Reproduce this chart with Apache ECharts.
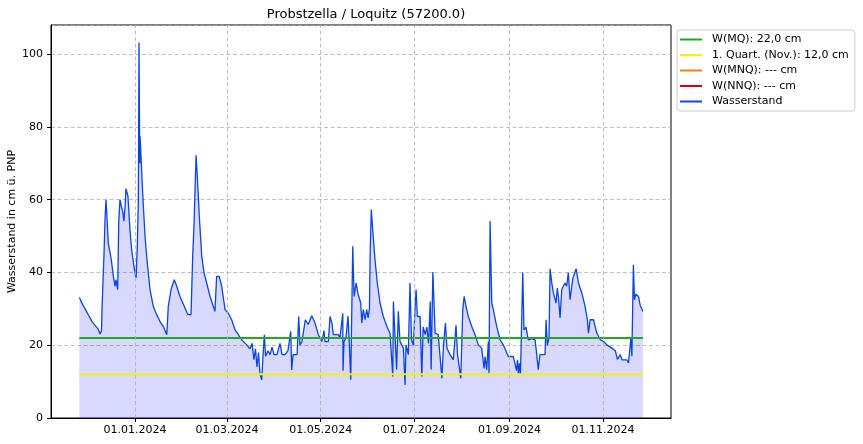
<!DOCTYPE html>
<html><head><meta charset="utf-8">
<script src="https://cdn.jsdelivr.net/npm/echarts@6/dist/echarts.min.js"></script>
<style>html,body{margin:0;padding:0;background:#fff}#c{width:863px;height:444px}</style>
</head><body><div id="c"></div>
<script>
const chartTitle = 'Probstzella / Loquitz (57200.0)';
const yAxisName = 'Wasserstand in cm ü. PNP';
const baseDate = [2024, 0, 1];
// days since 01.01.2024
const dayOffsets = [-36.3,-35.5,-34.5,-33.2,-31.9,-30.6,-29.3,-28.0,-26.7,-25.4,
-24.1,-22.8,-21.8,-21.5,-20.9,-20.2,-19.5,-18.9,-18.4,-17.9,
-17.4,-15.8,-15.0,-14.1,-13.0,-12.4,-11.3,-10.6,-9.8,-8.8,
-8.0,-7.2,-6.5,-5.9,-4.6,-3.3,-2.2,-0.7,0.7,1.5,
2.2,2.6,3.1,3.3,4.1,5.0,6.5,8.0,9.8,11.9,
14.1,16.3,18.4,20.7,21.7,23.5,25.6,27.2,29.3,32.6,
34.5,36.5,37.6,38.5,39.8,40.6,41.9,43.5,45.0,46.7,
48.9,51.0,52.1,53.2,54.9,56.5,58.7,60.8,63.0,65.2,
67.3,69.5,72.8,74.9,76.3,77.5,78.5,79.5,80.5,81.5,
82.6,83.4,84.3,85.1,86.7,88.0,89.3,90.6,92.5,94.5,
95.8,97.8,99.7,101.5,102.1,103.0,105.6,106.7,107.5,108.8,
111.0,112.9,115.2,117.3,119.5,121.7,123.2,123.8,126.0,127.1,
128.4,129.2,132.5,133.6,135.4,135.6,136.2,137.5,138.8,139.5,
140.6,141.9,142.8,144.1,145.4,147.1,147.8,148.8,149.9,151.0,
151.9,152.8,153.2,154.0,154.9,156.4,157.9,159.7,161.8,164.1,
166.2,168.0,168.4,169.5,170.5,171.6,172.7,174.9,176.0,176.6,
178.1,179.2,180.2,181.4,182.5,183.2,184.0,185.8,186.9,187.8,
189.1,190.2,191.3,192.4,193.0,194.1,195.6,197.6,200.0,201.0,
202.3,203.3,205.3,207.4,209.2,210.2,211.2,212.3,213.6,214.5,
215.8,217.2,219.4,221.6,223.7,225.9,227.5,228.1,229.2,230.3,
230.7,231.4,232.5,233.5,235.7,237.9,240.0,243.3,246.5,247.6,
248.6,249.3,249.9,250.6,251.2,252.0,252.7,253.5,254.8,256.3,
258.5,260.7,261.4,262.8,263.9,267.2,267.9,268.7,269.8,270.5,
271.6,272.6,274.4,275.2,276.0,277.0,278.1,280.2,281.3,282.4,
283.5,285.3,287.5,289.0,291.2,293.3,294.8,295.5,296.6,298.8,
299.9,301.0,303.2,305.3,307.5,310.8,313.0,314.4,316.2,317.3,
320.5,321.6,322.7,323.2,323.8,324.8,325.5,326.4,328.1,329.2,
331.0];
// Wasserstand in cm
const levels = [33.1,32.5,31.5,30.5,29.5,28.5,27.5,26.5,25.8,25.5,
24.5,23.1,24,30,37,45,55,60,56.4,52,
48,44.4,42,38.9,36.2,38,35.3,53.7,60,58,
56.8,54.1,58,63,61,51.8,46.3,41.7,38.5,47.2,
60,103.2,70,77.5,70.2,61.9,50,42.6,35.3,30.7,
28.4,26.5,25.2,22.9,30.7,35.3,38,36.2,33.4,30.2,
28.4,28.4,44.4,53.6,72.2,66.5,55.5,44.4,39.9,37.1,
33.4,30.7,29.3,38.9,38.9,36.2,29.8,28.8,27,24.2,
22.9,21.5,20.1,19,20.5,16,19,14,18,12,
10.5,17,22.9,17,18.5,17.4,19.5,17.4,17.4,20.5,
17.4,17.4,18.5,23.8,13.2,17.4,17.4,27.9,20.1,21,
27,25.7,28.1,26.1,22.9,21,24,21,21,27.9,
26,22.9,22.9,22,28.8,13,21,22,28,22,
10.5,47.2,33.4,37.1,34,31.6,26.1,29.8,27,29.8,
27.5,30,44.4,57.3,51.8,43.5,37.1,31.6,27.9,25.2,
23.3,11.4,32,22,13.3,29.3,21,19.2,9.1,20.1,
17.4,37.1,21.5,20,30.2,35.3,27.9,27.9,11.4,25,
22.9,25,20.5,32,13.3,40.1,23.3,22.9,10.9,19.8,
26.1,19.2,17.4,16,25.5,17.4,17,10.9,29.8,33.4,
30.5,27.9,25.2,22.9,20.1,19.2,13.6,16.9,13.3,21,
12.2,54.1,31.6,29.8,25.2,21.5,20.1,16.9,16.9,15.1,
13,16,12,15,12,12,40,24.2,25,21.5,
21.8,21.5,19,13.3,17.4,17.4,27,20,22,41,
37.1,34.5,31.6,35.7,33,27.5,35.3,37.1,36.2,40,
32.5,38.3,41,37.1,34.3,30.7,27,23.3,27,27,
25,23.3,21.5,21,20.1,19.2,18.5,16.1,17.4,16,
16,15.1,15.5,22,17,42.1,32.5,34,33.4,31,
29.3];
const mqLevel = 22.0;
const quartLevel = 12.0;
const legendNames = ['W(MQ): 22,0 cm', '1. Quart. (Nov.): 12,0 cm', 'W(MNQ): --- cm', 'W(NNQ): --- cm', 'Wasserstand'];
const tickDates = ['2024-01-01','2024-03-01','2024-05-01','2024-07-01','2024-09-01','2024-11-01'];
const yTicks = [0, 20, 40, 60, 80, 100];

const DAY = 86400000;
const base = new Date(baseDate[0], baseDate[1], baseDate[2]).getTime();
const toTime = d => base + d * DAY;
const parseDate = s => { const p = s.split('-').map(Number); return new Date(p[0], p[1] - 1, p[2]).getTime(); };
const tickTimes = tickDates.map(parseDate);
const n = Math.min(dayOffsets.length, levels.length);
const seriesData = [];
for (let i = 0; i < n; i++) seriesData.push([toTime(dayOffsets[i]), levels[i]]);
const tStart = seriesData[0][0], tEnd = seriesData[n - 1][0];
const pad2 = v => (v < 10 ? '0' : '') + v;
const fmtDate = v => { const d = new Date(v); return pad2(d.getDate()) + '.' + pad2(d.getMonth() + 1) + '.' + d.getFullYear(); };

const gridLine = { color: '#b0b0b0', width: 0.8, type: [4, 2.5] };
const font = 'DejaVu Sans';

const chart = echarts.init(document.getElementById('c'), null, { renderer: 'canvas' });
chart.setOption({
  animation: false,
  backgroundColor: '#fff',
  textStyle: { fontFamily: font },
  title: {
    text: chartTitle, left: 361, top: 3, textAlign: 'center',
    textStyle: { fontFamily: font, fontSize: 13, fontWeight: 'normal', color: '#000' }
  },
  grid: { left: 51, right: 192, top: 25, bottom: 26, show: true, borderColor: '#000', borderWidth: 1, containLabel: false, outerBoundsMode: 'none' },
  legend: {
    orient: 'vertical', left: 677, top: 30, selectedMode: false,
    padding: [2, 6, 2, 3], itemGap: 0.5, itemWidth: 22, itemHeight: 2,
    backgroundColor: '#fff', borderColor: '#cccccc', borderWidth: 1, borderRadius: 3,
    textStyle: { fontFamily: font, fontSize: 11, color: '#000', lineHeight: 15, padding: [0, 0, 0, 5] },
    data: legendNames.map(nm => ({ name: nm, icon: 'rect' }))
  },
  xAxis: {
    type: 'value',
    min: toTime(-54.74), max: toTime(349.3),
    axisLine: { show: true, lineStyle: { color: '#000', width: 1 } },
    axisTick: { show: true, length: 4, lineStyle: { color: '#000' }, customValues: tickTimes },
    axisLabel: { customValues: tickTimes, formatter: v => fmtDate(v), fontFamily: font, fontSize: 11, color: '#000', margin: 7 },
    splitLine: { show: false }
  },
  yAxis: {
    type: 'value', min: 0, max: 108, interval: 20,
    name: yAxisName, nameLocation: 'middle', nameGap: 33, nameMoveOverlap: false,
    nameTextStyle: { fontFamily: font, fontSize: 11, color: '#000' },
    axisLine: { show: true, lineStyle: { color: '#000', width: 1 } },
    axisTick: { show: true, length: 4, lineStyle: { color: '#000' } },
    axisLabel: { fontFamily: font, fontSize: 11, color: '#000', margin: 8, showMaxLabel: false,
      formatter: v => (yTicks.indexOf(v) >= 0 ? String(v) : '') },
    splitLine: { show: true, lineStyle: gridLine }
  },
  series: [
    {
      name: '__grid', type: 'line', data: [], z: 1, silent: true,
      markLine: { silent: true, symbol: ['none', 'none'], label: { show: false },
        lineStyle: gridLine, emphasis: { disabled: true },
        data: tickTimes.map(t => ({ xAxis: t })) }
    },
    {
      name: legendNames[4], type: 'line', data: seriesData, z: 3,
      showSymbol: false, symbol: 'none', color: '#0a44e2',
      lineStyle: { color: '#0a44e2', width: 1.3 },
      areaStyle: { color: 'rgba(0,0,255,0.15)', opacity: 1, origin: 'start' }
    },
    {
      name: legendNames[0], type: 'line', z: 4, symbol: 'none', color: '#1faa1f',
      lineStyle: { color: '#1faa1f', width: 2 },
      data: [[tStart, mqLevel], [tEnd, mqLevel]]
    },
    {
      name: legendNames[1], type: 'line', z: 4, symbol: 'none', color: '#f4f400',
      lineStyle: { color: '#f4f400', width: 2 },
      data: [[tStart, quartLevel], [tEnd, quartLevel]]
    },
    { name: legendNames[2], type: 'line', z: 4, symbol: 'none', color: '#ff7f0e', lineStyle: { color: '#ff7f0e', width: 2 }, data: [] },
    { name: legendNames[3], type: 'line', z: 4, symbol: 'none', color: '#e00000', lineStyle: { color: '#e00000', width: 2 }, data: [] }
  ]
});
</script></body></html>
